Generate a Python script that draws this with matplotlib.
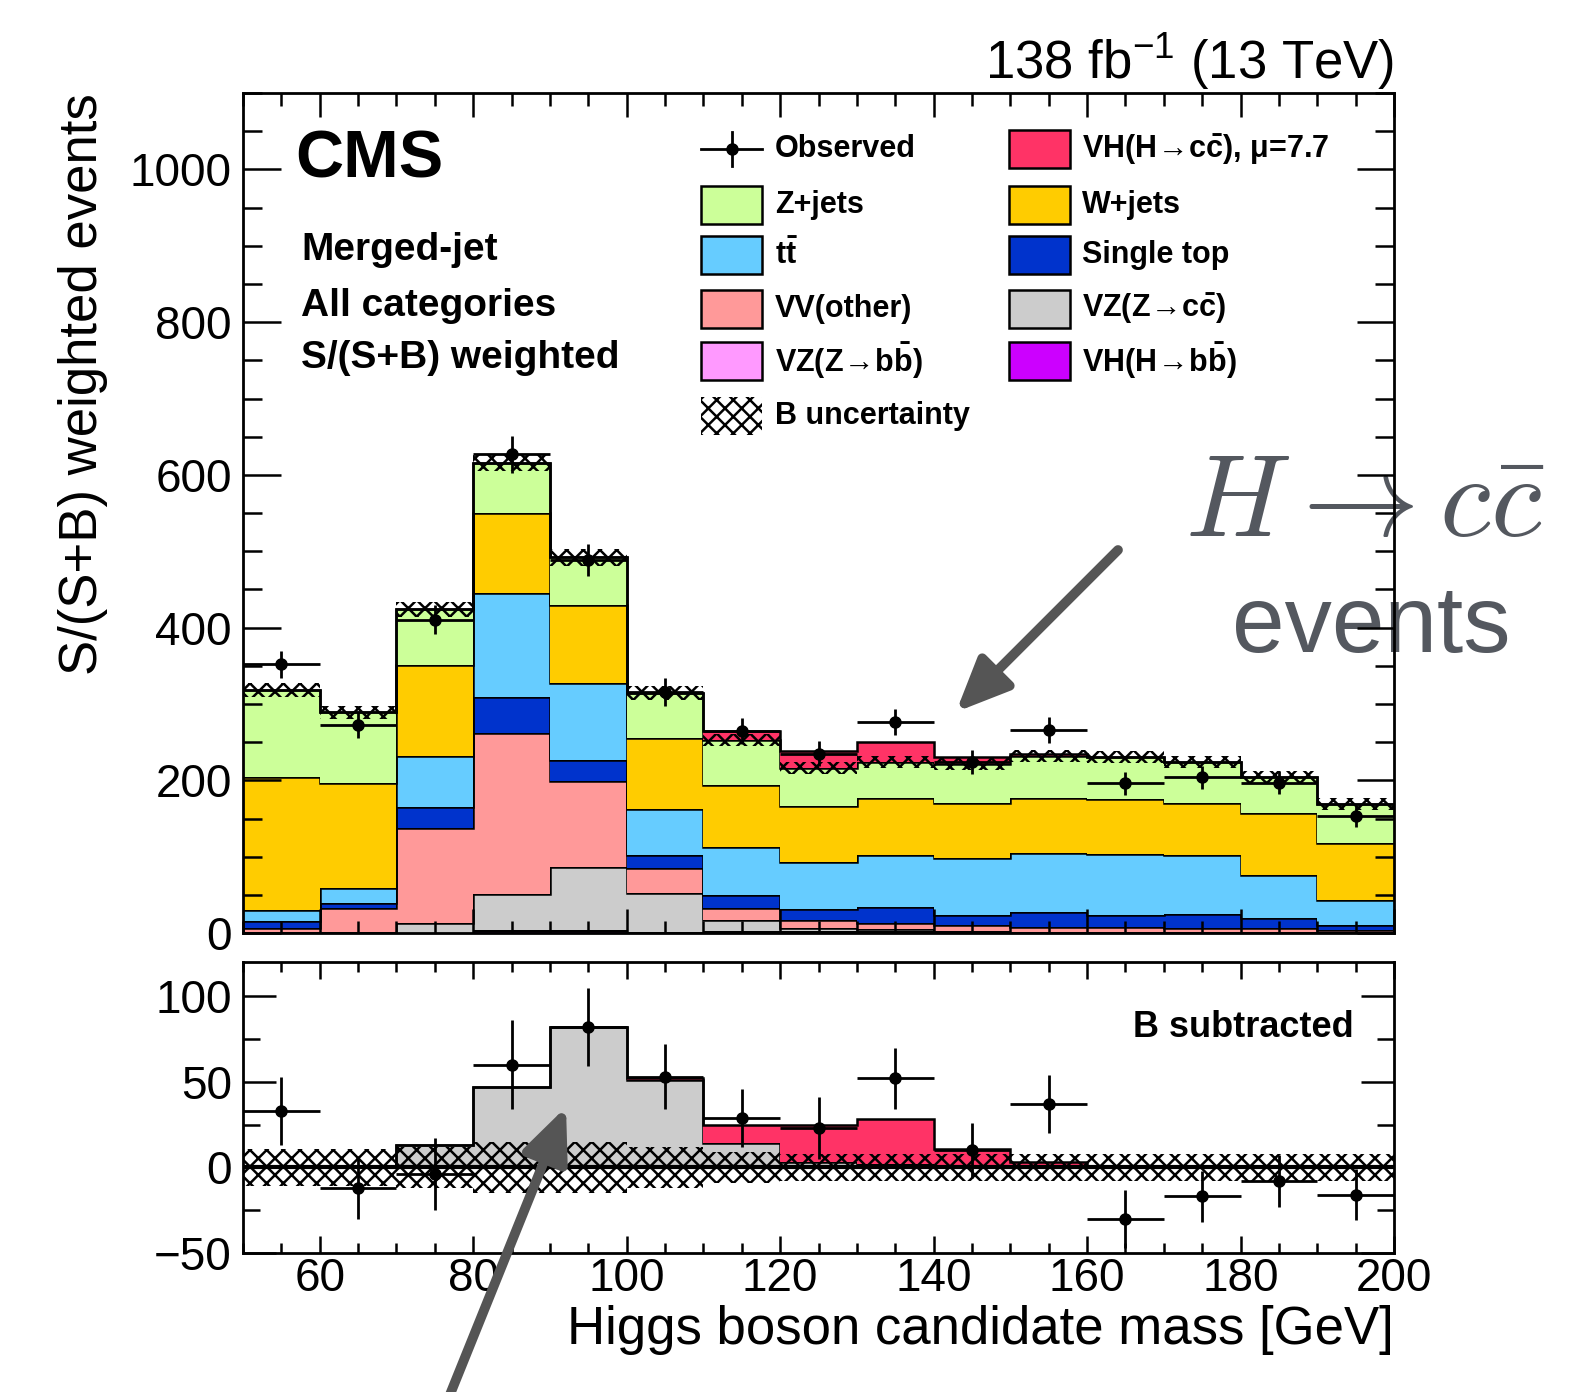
import numpy as np
import matplotlib.pyplot as plt
from matplotlib.patches import Rectangle
from matplotlib.ticker import MultipleLocator

plt.rcParams['font.family'] = ['Liberation Sans', 'DejaVu Sans']
plt.rcParams['mathtext.fontset'] = 'custom'
plt.rcParams['mathtext.rm'] = 'Liberation Sans'
plt.rcParams['mathtext.bf'] = 'Liberation Sans:bold'
plt.rcParams['mathtext.it'] = 'Liberation Sans:italic'
plt.rcParams['hatch.linewidth'] = 1.8

# Bins: Higgs candidate mass [GeV]
edges = np.arange(50, 201, 10)

# S/(S+B) weighted events per process, bottom -> top of stack
vh_bb = [0, 0, 0, 3, 3, 1, 2, 2, 2, 1, 1, 1, 1, 1, 1]
vz_bb = [0, 0, 0, 1, 1, 0, 1, 1, 1, 1, 0, 0, 0, 0, 0]
vz_cc = [1, 1, 13, 47, 82, 51, 14, 3, 2, 1, 1, 0, 0, 0, 0]
vv_other = [5, 32, 124, 211, 113, 33, 16, 11, 8, 7, 6, 7, 5, 5, 3]
single_top = [10, 6, 28, 47, 28, 17, 17, 14, 21, 14, 20, 16, 19, 14, 6]
ttbar = [14, 20, 67, 137, 100, 61, 63, 62, 68, 74, 77, 80, 77, 56, 33]
w_jets = [175, 137, 119, 104, 103, 92, 81, 73, 75, 72, 72, 71, 68, 81, 75]
z_jets = [113, 93, 73, 66, 62, 59, 59, 50, 47, 51, 55, 56, 54, 47, 51]
vh_cc = [0, 0, 0, 0, 0, 1, 11, 22, 26, 10, 2, 0, 0, 0, 0]

obs = [352, 272, 410, 627, 488, 316, 265, 235, 276, 224, 266, 196, 204, 197, 153]
obs_err = [18, 17, 19, 24, 21, 18, 17, 16, 17, 16, 17, 15, 15, 15, 14]
b_unc = [9, 9, 10, 11, 11, 9, 8, 8, 8, 8, 8, 8, 8, 8, 8]

# background subtracted panel
bsub = [33, -12, -4, 60, 82, 53, 29, 23, 52, 10, 37, -30, -17, -8, -16]
bsub_err = [20, 18, 21, 26, 23, 19, 17, 18, 18, 16, 17, 17, 15, 15, 15]
bsub_unc = [11, 11, 12, 15, 15, 12, 9, 8, 8, 8, 8, 8, 8, 8, 8]

c_zj = '#ccff99'
c_wj = '#ffcc00'
c_tt = '#66ccff'
c_st = '#0033cc'
c_vv = '#ff9999'
c_vzcc = '#cccccc'
c_vzbb = '#ff99ff'
c_vhbb = '#cc00ff'
c_vhcc = '#ff3366'

centers = 0.5 * (edges[1:] + edges[:-1])

fig = plt.figure(figsize=(15.82, 13.92), dpi=100)
ax1 = fig.add_axes([0.1536, 0.3297, 0.7276, 0.6034])
ax2 = fig.add_axes([0.1536, 0.0999, 0.7276, 0.2090])
ax1.patch.set_alpha(0)

# main stack
layers = [(vh_bb, c_vhbb), (vz_bb, c_vzbb), (vz_cc, c_vzcc), (vv_other, c_vv),
          (single_top, c_st), (ttbar, c_tt), (w_jets, c_wj), (z_jets, c_zj),
          (vh_cc, c_vhcc)]
bottom = np.zeros(len(centers))
for vals, col in layers:
    top = bottom + np.array(vals)
    ax1.stairs(top, edges, baseline=bottom, fill=True, facecolor=col, edgecolor='none')
    ax1.stairs(top, edges, baseline=None, color='k', lw=1.8)
    bottom = top

btot = bottom - np.array(vh_cc)
unc = np.array(b_unc)
ax1.bar(centers, 2 * unc, width=10, bottom=btot - unc, fill=False, hatch='xx',
        edgecolor='k', lw=0)
ax1.errorbar(centers, obs, yerr=obs_err, xerr=5, fmt='o', color='k', ms=8,
             elinewidth=2, capsize=0, zorder=5)

ax1.set_xlim(50, 200)
ax1.set_ylim(0, 1100)
ax1.yaxis.set_major_locator(MultipleLocator(200))
ax1.yaxis.set_minor_locator(MultipleLocator(50))
ax1.xaxis.set_major_locator(MultipleLocator(20))
ax1.xaxis.set_minor_locator(MultipleLocator(5))
ax1.tick_params(axis='both', which='both', direction='in', top=True, right=True,
                width=1.8, labelsize=33, labelbottom=False)
ax1.tick_params(axis='y', which='major', length=27, pad=8)
ax1.tick_params(axis='y', which='minor', length=14)
ax1.tick_params(axis='x', which='major', length=17)
ax1.tick_params(axis='x', which='minor', length=9)
ax1.set_ylabel('S/(S+B) weighted events', fontsize=38, loc='top')
ax1.yaxis.set_label_coords(-0.117, 1.0)

# lower panel: B subtracted
low_bot = np.zeros(len(centers))
for vals, col in [(vz_cc, c_vzcc), (vh_cc, c_vhcc)]:
    top = low_bot + np.array(vals)
    ax2.stairs(top, edges, baseline=low_bot, fill=True, facecolor=col, edgecolor='none')
    ax2.stairs(top, edges, baseline=None, color='k', lw=1.8)
    low_bot = top
lu = np.array(bsub_unc)
ax2.bar(centers, 2 * lu, width=10, bottom=-lu, fill=False, hatch='xx',
        edgecolor='k', lw=0)
ax2.axhline(0, color='k', lw=3)
ax2.errorbar(centers, bsub, yerr=bsub_err, xerr=5, fmt='o', color='k', ms=8,
             elinewidth=2, capsize=0, zorder=5)
ax2.set_xlim(50, 200)
ax2.set_ylim(-50, 120)
ax2.yaxis.set_major_locator(MultipleLocator(50))
ax2.yaxis.set_minor_locator(MultipleLocator(25))
ax2.xaxis.set_major_locator(MultipleLocator(20))
ax2.xaxis.set_minor_locator(MultipleLocator(5))
ax2.tick_params(axis='both', which='both', direction='in', top=True, right=True,
                width=1.8, labelsize=33)
ax2.tick_params(axis='y', which='major', length=24, pad=8)
ax2.tick_params(axis='y', which='minor', length=12)
ax2.tick_params(axis='x', which='major', length=12, pad=3)
ax2.tick_params(axis='x', which='minor', length=7)
ax2.set_xlabel('Higgs boson candidate mass [GeV]', fontsize=38, loc='right')
ax2.xaxis.set_label_coords(1.0, -0.179)
ax2.text(0.965, 0.742, 'B subtracted', transform=ax2.transAxes, ha='right',
         va='baseline', fontsize=26, fontweight='bold')

for ax in (ax1, ax2):
    for sp in ax.spines.values():
        sp.set_linewidth(2)

# texts
ax1.text(1.0, 1.0167, r'138 fb$^{-1}$ (13 TeV)', transform=ax1.transAxes,
         ha='right', va='baseline', fontsize=38)
ax1.text(0.045, 0.90, 'CMS', transform=ax1.transAxes, fontsize=48,
         fontweight='bold', va='baseline')
for yy, s in [(0.801, 'Merged-jet'), (0.7345, 'All categories'),
              (0.6726, 'S/(S+B) weighted')]:
    ax1.text(0.0504, yy, s, transform=ax1.transAxes, fontsize=28,
             fontweight='bold', va='baseline')

# legend
arr = r'$\!\mathbf{\rightarrow}\!$'
rows = [0.9333, 0.8667, 0.8071, 0.7429, 0.6810, 0.6155]
bw, bh = 0.053, 0.0452
col1 = [(c_zj, 'Z+jets'), (c_tt, r't$\mathbf{\bar{t}}$'), (c_vv, 'VV(other)'),
        (c_vzbb, 'VZ(Z' + arr + r'b$\mathbf{\bar{b}}$)')]
col2 = [(c_vhcc, 'VH(H' + arr + r'c$\mathbf{\bar{c}}$), μ=7.7'),
        (c_wj, 'W+jets'), (c_st, 'Single top'),
        (c_vzcc, 'VZ(Z' + arr + r'c$\mathbf{\bar{c}}$)'),
        (c_vhbb, 'VH(H' + arr + r'b$\mathbf{\bar{b}}$)')]
ax1.plot([0.398, 0.398 + bw], [rows[0], rows[0]], color='k', lw=2,
         transform=ax1.transAxes, clip_on=False)
ax1.plot([0.398 + bw / 2] * 2, [rows[0] - 0.02, rows[0] + 0.02], color='k', lw=2,
         transform=ax1.transAxes, clip_on=False)
ax1.plot([0.398 + bw / 2], [rows[0]], 'o', color='k', ms=8,
         transform=ax1.transAxes, clip_on=False)
ax1.text(0.462, rows[0], 'Observed', transform=ax1.transAxes, fontsize=22,
         fontweight='bold', va='center')
for i, (col, lab) in enumerate(col1):
    y = rows[i + 1]
    ax1.add_patch(Rectangle((0.398, y - bh / 2), bw, bh, facecolor=col,
                            edgecolor='k', lw=1.8, transform=ax1.transAxes))
    ax1.text(0.462, y, lab, transform=ax1.transAxes, fontsize=22,
             fontweight='bold', va='center')
ax1.add_patch(Rectangle((0.398, rows[5] - bh / 2), bw, bh, fill=False,
                        hatch='xx', edgecolor='k', lw=0, transform=ax1.transAxes))
ax1.text(0.462, rows[5], 'B uncertainty', transform=ax1.transAxes, fontsize=22,
         fontweight='bold', va='center')
for i, (col, lab) in enumerate(col2):
    y = rows[i]
    ax1.add_patch(Rectangle((0.6655, y - bh / 2), bw, bh, facecolor=col,
                            edgecolor='k', lw=1.8, transform=ax1.transAxes))
    ax1.text(0.729, y, lab, transform=ax1.transAxes, fontsize=22,
             fontweight='bold', va='center')

# annotation
gcol = '#54585f'
ax1.text(0.975, 0.4726, r'$H \rightarrow c\bar{c}$', transform=ax1.transAxes,
         ha='center', va='baseline', fontsize=84, color=gcol,
         math_fontfamily='cm', clip_on=False, zorder=1)
ax1.text(0.98, 0.3345, 'events', transform=ax1.transAxes, ha='center',
         va='baseline', fontsize=68, color=gcol, clip_on=False, zorder=1)

arrow = dict(arrowstyle='-|>,head_length=1.6,head_width=0.7', color='#555555',
             lw=7, shrinkA=0, shrinkB=0, mutation_scale=20)
fig.add_artist(plt.Annotation('', xy=(956, 680), xycoords='figure pixels',
                              xytext=(1118, 842), textcoords='figure pixels',
                              arrowprops=arrow))
fig.add_artist(plt.Annotation('', xy=(566, 285), xycoords='figure pixels',
                              xytext=(449, -5), textcoords='figure pixels',
                              arrowprops=arrow))

fig.savefig('out.png', dpi=100)
